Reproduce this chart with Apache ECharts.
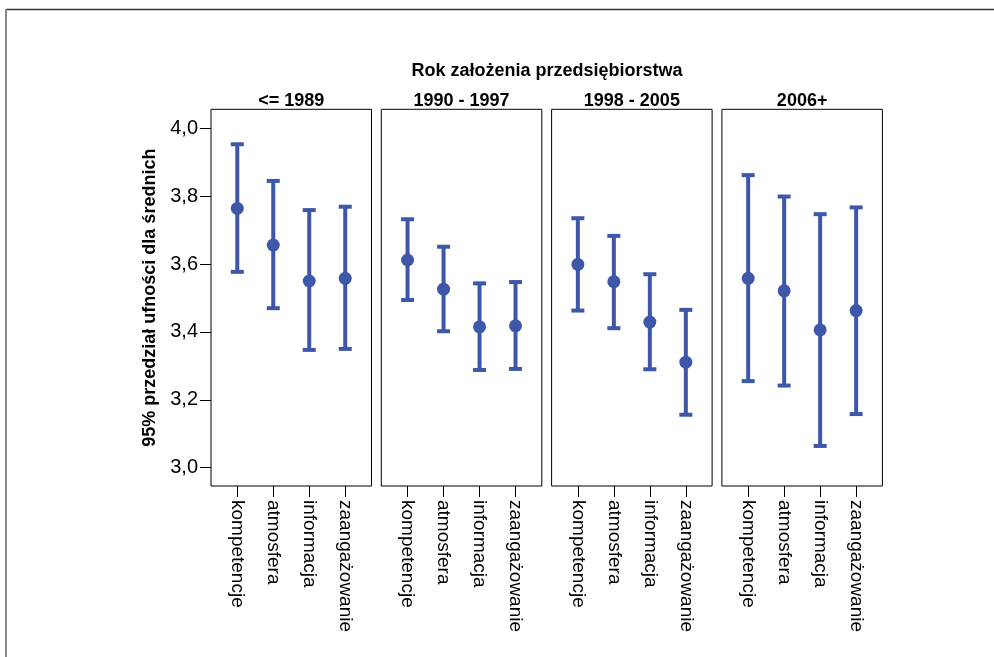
<!DOCTYPE html>
<html>
<head>
<meta charset="utf-8">
<script src="https://cdn.jsdelivr.net/npm/echarts@6/dist/echarts.min.js"></script>
<style>
html,body{margin:0;padding:0;background:#fff;}
#chart{width:994px;height:657px;}
</style>
</head>
<body>
<div id="chart"></div>
<script>
const categories = ['kompetencje', 'atmosfera', 'informacja', 'zaangażowanie'];
const groups = ['<= 1989', '1990 - 1997', '1998 - 2005', '2006+'];
const yTicks = [3.0, 3.2, 3.4, 3.6, 3.8, 4.0];
// means, lower and upper 95% CI bounds per group (order of categories)
const means1989 = [3.764, 3.656, 3.550, 3.558];
const lower1989 = [3.577, 3.470, 3.347, 3.350];
const upper1989 = [3.953, 3.845, 3.759, 3.769];
const means1990 = [3.612, 3.526, 3.415, 3.418];
const lower1990 = [3.494, 3.402, 3.288, 3.291];
const upper1990 = [3.732, 3.651, 3.543, 3.547];
const means1998 = [3.599, 3.548, 3.429, 3.311];
const lower1998 = [3.463, 3.411, 3.290, 3.156];
const upper1998 = [3.735, 3.683, 3.570, 3.465];
const means2006 = [3.558, 3.521, 3.406, 3.463];
const lower2006 = [3.255, 3.242, 3.064, 3.158];
const upper2006 = [3.862, 3.799, 3.747, 3.767];

const meansAll = [means1989, means1990, means1998, means2006];
const lowerAll = [lower1989, lower1990, lower1998, lower2006];
const upperAll = [upper1989, upper1990, upper1998, upper2006];

const BLUE = '#3e57a8';
const FONT = "'Liberation Sans', Arial, sans-serif";
const panelLeft0 = 211, panelStep = 170.3, panelW = 160.5, panelTop = 109.3, panelH = 376.7;

const grids = [], xAxes = [], yAxes = [], series = [], titles = [];
titles.push({
  text: 'Rok założenia przedsiębiorstwa',
  left: 547, top: 62, textAlign: 'center', padding: 0,
  textStyle: {fontFamily: FONT, fontSize: 18, fontWeight: 'bold', color: '#000'}
});
groups.forEach((g, i) => {
  const left = panelLeft0 + i * panelStep;
  grids.push({left: left, top: panelTop, width: panelW, height: panelH, show: true,
    borderColor: '#000', borderWidth: 1, backgroundColor: 'transparent', containLabel: false});
  titles.push({
    text: g, left: left + panelW / 2, top: 92, textAlign: 'center', padding: 0,
    textStyle: {fontFamily: FONT, fontSize: 18, fontWeight: 'bold', color: '#000'}
  });
  xAxes.push({
    type: 'value', gridIndex: i, min: -0.73, max: 3.73,
    splitLine: {show: false}, axisLine: {show: false, onZero: false},
    axisTick: {show: true, customValues: [0, 1, 2, 3], length: 11, inside: false,
      lineStyle: {color: '#000', width: 1}},
    axisLabel: {show: true, customValues: [0, 1, 2, 3], rotate: -90, margin: 14,
      fontFamily: FONT, fontSize: 19, color: '#000',
      formatter: v => categories[Math.round(v)] || ''}
  });
  yAxes.push({
    type: 'value', gridIndex: i, min: 2.946, max: 4.056,
    splitLine: {show: false}, axisLine: {show: false, onZero: false},
    axisTick: {show: i === 0, customValues: yTicks, length: 11, lineStyle: {color: '#000', width: 1}},
    axisLabel: {show: i === 0, customValues: yTicks, margin: 13, fontFamily: FONT, fontSize: 20, color: '#000',
      formatter: v => v.toFixed(1).replace('.', ',')},
    name: i === 0 ? '95% przedział ufności dla średnich' : '',
    nameLocation: 'middle', nameRotate: 90, nameGap: 52,
    nameTextStyle: {fontFamily: FONT, fontSize: 18, fontWeight: 'bold', color: '#000'}
  });
  const ciData = categories.map((c, k) => [k, lowerAll[i][k], upperAll[i][k]]);
  series.push({
    type: 'custom', xAxisIndex: i, yAxisIndex: i, data: ciData,
    encode: {x: 0, y: [1, 2]},
    renderItem: (params, api) => {
      const x = api.value(0);
      const lo = api.coord([x, api.value(1)]);
      const hi = api.coord([x, api.value(2)]);
      const hw = 6.5;
      const st = {stroke: BLUE, lineWidth: 4};
      return {type: 'group', children: [
        {type: 'line', shape: {x1: lo[0], y1: lo[1], x2: hi[0], y2: hi[1]}, style: st},
        {type: 'line', shape: {x1: hi[0] - hw, y1: hi[1], x2: hi[0] + hw, y2: hi[1]}, style: st},
        {type: 'line', shape: {x1: lo[0] - hw, y1: lo[1], x2: lo[0] + hw, y2: lo[1]}, style: st}
      ]};
    },
    silent: true, animation: false, z: 2
  });
  series.push({
    type: 'scatter', xAxisIndex: i, yAxisIndex: i,
    data: meansAll[i].map((m, k) => [k, m]),
    symbol: 'circle', symbolSize: 13, itemStyle: {color: BLUE, opacity: 1},
    silent: true, animation: false, z: 3
  });
});

const chart = echarts.init(document.getElementById('chart'), null, {renderer: 'canvas'});
chart.setOption({
  backgroundColor: '#fff',
  animation: false,
  title: titles,
  grid: grids, xAxis: xAxes, yAxis: yAxes, series: series,
  graphic: [
    {type: 'line', shape: {x1: 6, y1: 9.5, x2: 994, y2: 9.5}, style: {stroke: '#333', lineWidth: 1.5}, silent: true},
    {type: 'line', shape: {x1: 6, y1: 9, x2: 6, y2: 657}, style: {stroke: '#888', lineWidth: 2}, silent: true}
  ]
});
</script>
</body>
</html>
